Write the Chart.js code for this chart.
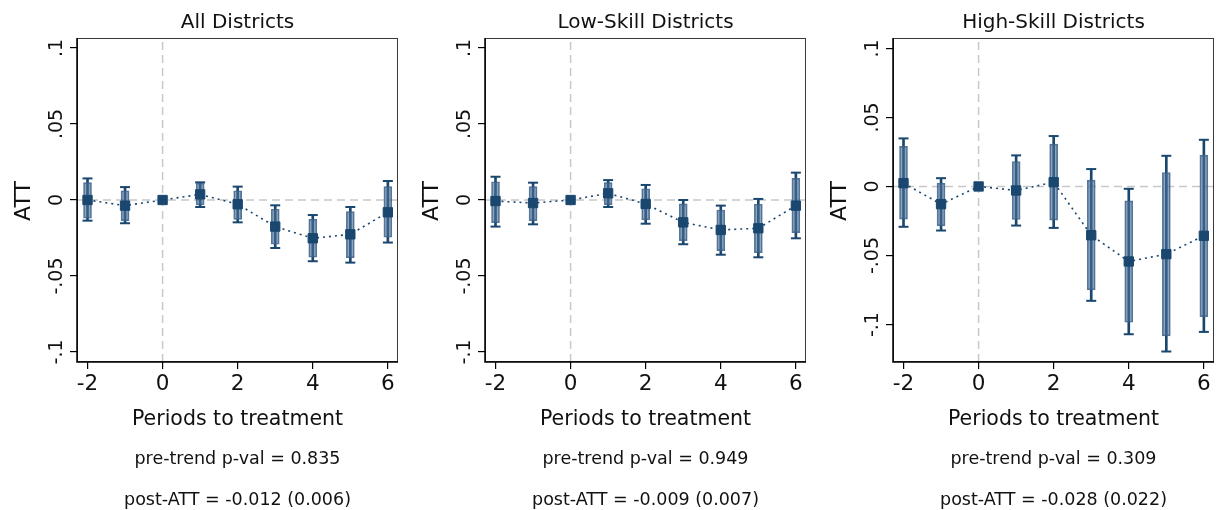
<!DOCTYPE html>
<html>
<head>
<meta charset="utf-8">
<script src="https://cdn.jsdelivr.net/npm/chart.js@4.4.1/dist/chart.umd.min.js"></script>
<style>
  html, body { margin: 0; padding: 0; background: #ffffff; }
  body { width: 1222px; height: 510px; position: relative; overflow: hidden; }
  .panel { position: absolute; top: 0; width: 406px; height: 510px; }
</style>
</head>
<body>
<div class="panel" style="left:0px"><canvas id="p0"></canvas></div>
<div class="panel" style="left:408px"><canvas id="p1"></canvas></div>
<div class="panel" style="left:816px"><canvas id="p2"></canvas></div>
<script>
// Event-study estimates by period relative to treatment
const periods = [-2, -1, 0, 1, 2, 3, 4, 5, 6];
const xTicks = [-2, 0, 2, 4, 6];
const yTicks = [-0.1, -0.05, 0, 0.05, 0.1];
const yTickLabels = ['-.1', '-.05', '0', '.05', '.1'];

const panelTitles = ['All Districts', 'Low-Skill Districts', 'High-Skill Districts'];
const pretrendNotes = ['pre-trend p-val = 0.835', 'pre-trend p-val = 0.949', 'pre-trend p-val = 0.309'];
const postNotes = ['post-ATT = -0.012 (0.006)', 'post-ATT = -0.009 (0.007)', 'post-ATT = -0.028 (0.022)'];

// All districts
const attAll   = [0.0000, -0.0037, 0, 0.0037, -0.0028, -0.0175, -0.0252, -0.0226, -0.0081];
const lo95All  = [-0.0136, -0.0153, null, -0.0046, -0.0147, -0.0316, -0.0403, -0.0412, -0.0280];
const hi95All  = [0.0142, 0.0085, null, 0.0116, 0.0088, -0.0035, -0.0099, -0.0046, 0.0125];
const lo90All  = [-0.0120, -0.0136, null, -0.0033, -0.0127, -0.0291, -0.0377, -0.0379, -0.0245];
const hi90All  = [0.0114, 0.0061, null, 0.0110, 0.0061, -0.0061, -0.0127, -0.0077, 0.0088];

// Low-skill districts
const attLow   = [-0.0007, -0.0020, 0, 0.0044, -0.0026, -0.0147, -0.0197, -0.0186, -0.0037];
const lo95Low  = [-0.0175, -0.0160, null, -0.0046, -0.0156, -0.0291, -0.0360, -0.0377, -0.0252];
const hi95Low  = [0.0153, 0.0114, null, 0.0131, 0.0099, 0.0000, -0.0037, 0.0007, 0.0180];
const lo90Low  = [-0.0149, -0.0136, null, -0.0030, -0.0131, -0.0267, -0.0333, -0.0346, -0.0215];
const hi90Low  = [0.0120, 0.0088, null, 0.0114, 0.0074, -0.0026, -0.0066, -0.0028, 0.0142];

// High-skill districts
const attHigh  = [0.0024, -0.0128, 0, -0.0029, 0.0031, -0.0353, -0.0543, -0.0490, -0.0357];
const lo95High = [-0.0292, -0.0319, null, -0.0283, -0.0300, -0.0828, -0.1070, -0.1195, -0.1053];
const hi95High = [0.0348, 0.0060, null, 0.0225, 0.0365, 0.0126, -0.0017, 0.0222, 0.0338];
const lo90High = [-0.0237, -0.0285, null, -0.0239, -0.0244, -0.0749, -0.0983, -0.1082, -0.0942];
const hi90High = [0.0290, 0.0024, null, 0.0181, 0.0307, 0.0046, -0.0104, 0.0101, 0.0227];

// Axis ranges
const xRange = [-2.28, 6.27];
const yRanges = [[-0.1066, 0.1066], [-0.1066, 0.1066], [-0.1271, 0.1075]];

const NAVY = '#1a476f';
const FONT = '"DejaVu Sans", Verdana, sans-serif';

function pairs(lo, hi) {
  const out = [];
  periods.forEach((p, i) => { if (lo[i] !== null) out.push({ x: p, y: [lo[i], hi[i]] }); });
  return out;
}
function caps(lo, hi) {
  const out = [];
  periods.forEach((p, i) => {
    if (lo[i] !== null) { out.push({ x: p, y: lo[i] }); out.push({ x: p, y: hi[i] }); }
  });
  return out;
}

// Text, frame and rotated y labels drawn on top of each panel
const panelText = {
  id: 'panelText',
  afterDraw(chart, args, opts) {
    const { ctx, chartArea: a, scales } = chart;
    const cx = (a.left + a.right) / 2;
    ctx.save();
    // plot-region frame
    ctx.strokeStyle = '#3a3a3a';
    ctx.lineWidth = 1;
    ctx.strokeRect(a.left + 0.5, a.top + 0.5, a.right - a.left - 1, a.bottom - a.top - 1);
    ctx.strokeStyle = '#000';
    ctx.lineWidth = 1.5;
    ctx.beginPath();
    ctx.moveTo(a.left, a.top); ctx.lineTo(a.left, a.bottom); ctx.lineTo(a.right, a.bottom);
    ctx.stroke();

    ctx.fillStyle = '#111';
    ctx.textAlign = 'center';
    ctx.textBaseline = 'alphabetic';
    ctx.font = '20px ' + FONT;
    ctx.fillText(opts.title, cx, 27.5);

    // x tick labels
    ctx.font = '21.5px ' + FONT;
    xTicks.forEach(v => ctx.fillText(String(v), scales.x.getPixelForValue(v), 390));

    ctx.font = '20.5px ' + FONT;
    ctx.fillText('Periods to treatment', cx, 425);
    ctx.font = '17.5px ' + FONT;
    ctx.fillText(opts.note1, cx, 464);
    ctx.fillText(opts.note2, cx, 504.5);

    // rotated y tick labels
    ctx.font = '19px ' + FONT;
    yTicks.forEach((v, i) => {
      ctx.save();
      ctx.translate(61.5, scales.y.getPixelForValue(v));
      ctx.rotate(-Math.PI / 2);
      ctx.fillText(yTickLabels[i], 0, 0);
      ctx.restore();
    });
    // y axis title
    ctx.font = '22px ' + FONT;
    ctx.save();
    ctx.translate(30, 201);
    ctx.rotate(-Math.PI / 2);
    ctx.fillText('ATT', 0, 0);
    ctx.restore();
    ctx.restore();
  }
};

function makePanel(id, k, att, lo95, hi95, lo90, hi90) {
  const [yMin, yMax] = yRanges[k];
  const estimates = periods.map((p, i) => ({ x: p, y: att[i] }));
  new Chart(document.getElementById(id), {
    type: 'bar',
    data: {
      datasets: [
        {
          type: 'line', order: 20,
          data: [{ x: xRange[0], y: 0 }, { x: xRange[1], y: 0 }],
          borderColor: '#c8c8c8', borderWidth: 1.5, borderDash: [8, 5],
          pointRadius: 0, tension: 0
        },
        {
          type: 'line', order: 19,
          data: [{ x: 0, y: yMin }, { x: 0, y: yMax }],
          borderColor: '#c8c8c8', borderWidth: 1.5, borderDash: [8, 5],
          pointRadius: 0, tension: 0
        },
        {
          // 95% interval whisker
          type: 'bar', order: 10, grouped: false,
          data: pairs(lo95, hi95),
          backgroundColor: NAVY, borderWidth: 0, barThickness: 2
        },
        {
          // whisker caps
          type: 'line', order: 9, showLine: false,
          data: caps(lo95, hi95),
          pointStyle: 'line', pointRadius: 5, borderColor: NAVY, pointBorderWidth: 2,
          backgroundColor: NAVY
        },
        {
          // 90% interval bar
          type: 'bar', order: 8, grouped: false,
          data: pairs(lo90, hi90),
          backgroundColor: 'rgba(72,110,150,0.62)', borderColor: 'rgba(60,95,135,0.85)',
          borderWidth: 1, barThickness: 8, borderSkipped: false
        },
        {
          // point estimates joined by a dotted line
          type: 'line', order: 1,
          data: estimates,
          borderColor: NAVY, borderWidth: 1.6, borderDash: [2, 4], tension: 0,
          pointStyle: 'rect', pointRadius: 6.6, pointBorderWidth: 1,
          pointBackgroundColor: NAVY, pointBorderColor: NAVY
        }
      ]
    },
    options: {
      responsive: false,
      animation: false,
      devicePixelRatio: 1,
      layout: { padding: { left: 77, right: 8, top: 38, bottom: 148 } },
      plugins: {
        legend: { display: false },
        tooltip: { enabled: false },
        panelText: { title: panelTitles[k], note1: pretrendNotes[k], note2: postNotes[k] }
      },
      scales: {
        x: {
          type: 'linear', min: xRange[0], max: xRange[1], offset: false,
          afterFit(s) { s.height = 0; },
          afterBuildTicks(s) { s.ticks = xTicks.map(v => ({ value: v })); },
          ticks: { display: false },
          grid: { offset: false, drawOnChartArea: false, drawTicks: true, tickLength: 7, color: '#000', lineWidth: 1.2 },
          border: { display: false }
        },
        y: {
          type: 'linear', min: yMin, max: yMax,
          afterFit(s) { s.width = 0; },
          afterBuildTicks(s) { s.ticks = yTicks.map(v => ({ value: v })); },
          ticks: { display: false },
          grid: { drawOnChartArea: false, drawTicks: true, tickLength: 7, color: '#000', lineWidth: 1.2 },
          border: { display: false }
        }
      }
    },
    plugins: [panelText]
  });
}

['p0', 'p1', 'p2'].forEach(id => {
  const c = document.getElementById(id);
  c.width = 406; c.height = 510;
  c.style.width = '406px'; c.style.height = '510px';
});

makePanel('p0', 0, attAll, lo95All, hi95All, lo90All, hi90All);
makePanel('p1', 1, attLow, lo95Low, hi95Low, lo90Low, hi90Low);
makePanel('p2', 2, attHigh, lo95High, hi95High, lo90High, hi90High);
</script>
</body>
</html>
